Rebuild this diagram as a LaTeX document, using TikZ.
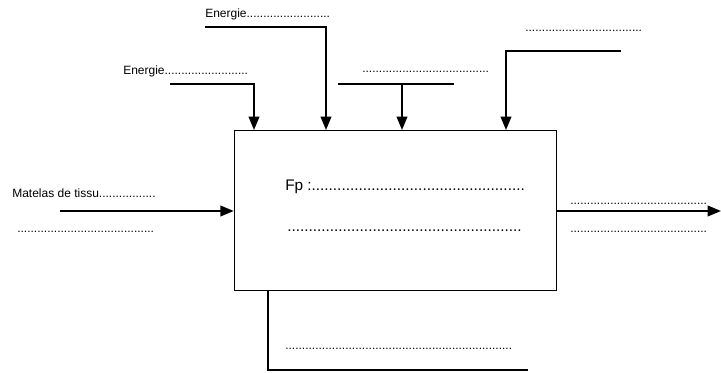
\documentclass[tikz,border=0pt]{standalone}
\usepackage{fontspec}
\setmainfont{Liberation Sans}
\usetikzlibrary{arrows.meta}
\begin{document}
\begin{tikzpicture}[x=0.75pt,y=-0.75pt,
  lbl/.style={anchor=base west,inner sep=0pt,font=\fontsize{9}{10}\selectfont},
  big/.style={anchor=base west,inner sep=0pt,font=\fontsize{11.5}{13}\selectfont},
  flow/.style={line width=1.3pt},
  arr/.style={flow,-{Triangle[width=8pt,length=10pt]}},
  box/.style={draw,line width=1.1pt,minimum width=322*0.75pt,minimum height=160*0.75pt,inner sep=0pt,anchor=north west}]
\useasboundingbox (0,0) rectangle (721,372);
\node[box] (F) at (233.7,130) {};
% texts
\node[lbl] (e1) at (205,17) {Energie.........................};
\node[lbl] (e2) at (123,74) {Energie.........................};
\node[lbl] (d3) at (362,72) {......................................};
\node[lbl] (d4) at (525,31) {...................................};
\node[lbl] (m1) at (12,197) {Matelas de tissu.................};
\node[lbl] (m2) at (17,232) {.........................................};
\node[lbl] (o1) at (570,204) {.........................................};
\node[lbl] (o2) at (570,232) {.........................................};
\node[lbl] (b1) at (285,349) {....................................................................};
\node[big] (fp) at (285,190) {Fp :..................................................};
\node[big] (fp2) at (287,231) {.......................................................};
% coordinates of the free ends
\coordinate (a1) at (205,27);
\coordinate (a2) at (170,84);
\coordinate (a3l) at (338,84);
\coordinate (a3r) at (454,84);
\coordinate (a4) at (621,51);
\coordinate (in) at (60,211);
\coordinate (out) at (721,211);
\coordinate (me) at (528,370);
% top inputs
\draw[arr] (a1) -| (F.north west -| 326,0) ;
\draw[arr] (a2) -| (F.north west -| 254,0);
\draw[flow] (a3l) -- (a3r);
\draw[arr] (402,84) -- (F.north west -| 402,0);
\draw[arr] (a4) -| (F.north west -| 506,0);
% left input / right output
\draw[arr] (in) -- (F.west |- in);
\draw[arr] (F.east |- out) -- (out);
% bottom mechanism
\draw[flow] (F.south west -| 268,0) |- (me);
\end{tikzpicture}
\end{document}
